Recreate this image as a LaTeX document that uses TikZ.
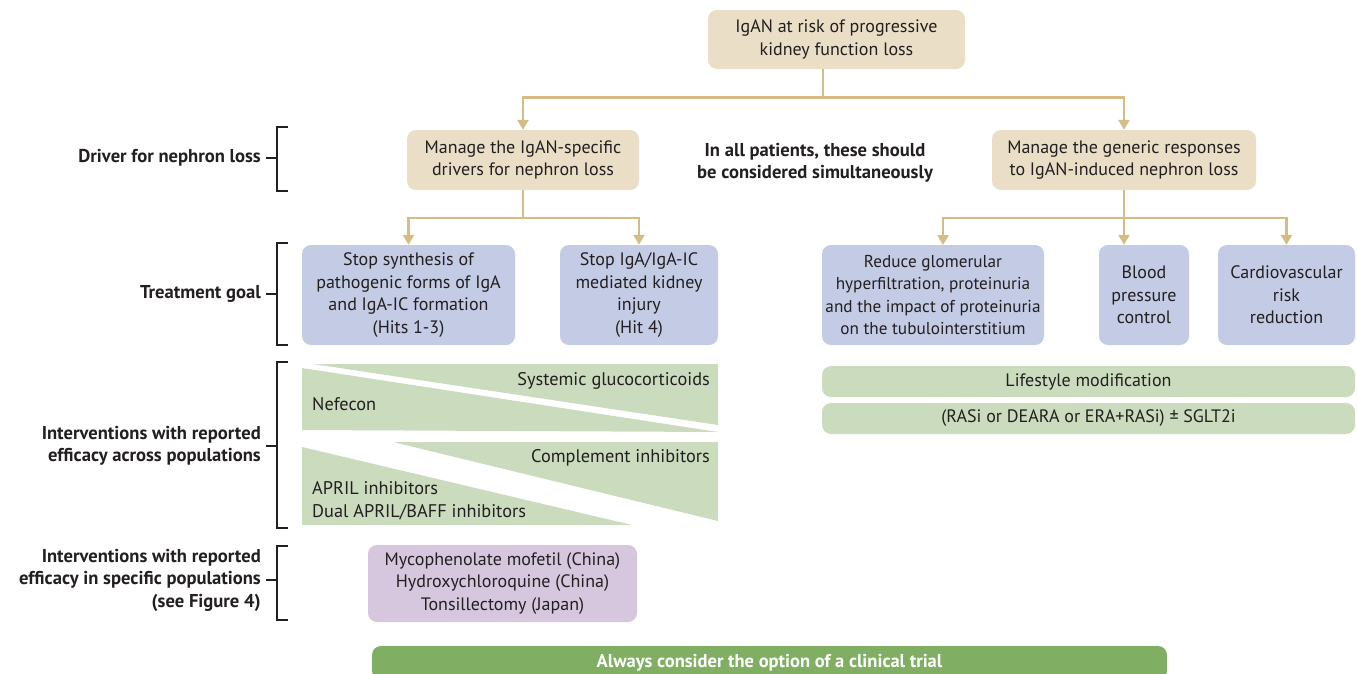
\documentclass[tikz,border=0pt]{standalone}
\usepackage{fontspec}
\setmainfont{PT Sans}
\usetikzlibrary{arrows.meta}
\definecolor{tanfill}{RGB}{234,222,198}
\definecolor{tanline}{RGB}{212,188,132}
\definecolor{bluefill}{RGB}{195,203,229}
\definecolor{greenfill}{RGB}{203,220,190}
\definecolor{purplefill}{RGB}{214,199,223}
\definecolor{trialfill}{RGB}{128,174,99}
\definecolor{txt}{RGB}{35,31,32}
\tikzset{
  box/.style={rounded corners=9pt, inner sep=0pt, align=center, text=txt,
    font=\fontsize{18}{22.5}\selectfont},
  tanbox/.style={box, fill=tanfill},
  bluebox/.style={box, fill=bluefill},
  greenbox/.style={box, fill=greenfill},
  purplebox/.style={box, fill=purplefill},
  conn/.style={draw=tanline, line width=2.6pt},
  arr/.style={-{Triangle[length=10pt,width=11pt]}},
  rowlabel/.style={anchor=east, align=right, text=txt, inner sep=0pt,
    font=\bfseries\fontsize{18.6}{22.5}\selectfont},
  brk/.style={draw=txt, line width=1.1pt},
  tritext/.style={text=txt, inner sep=0pt, font=\fontsize{18.3}{22.5}\selectfont},
}
\begin{document}
\begin{tikzpicture}[x=1pt,y=-1pt]
\useasboundingbox (0,0) rectangle (1357,673);

% top level
\node[tanbox, minimum width=257pt, minimum height=59pt] (top) at (836.5,39.5)
  {IgAN at risk of progressive\\kidney function loss};
\node[tanbox, minimum width=232pt, minimum height=60pt] (drvL) at (523,160)
  {Manage the IgAN-specific\\drivers for nephron loss};
\node[tanbox, minimum width=264pt, minimum height=60pt] (drvR) at (1124,160)
  {Manage the generic responses\\to IgAN-induced nephron loss};
\node[align=center, text=txt, inner sep=0pt, font=\bfseries\fontsize{18.6}{22.5}\selectfont] (mid) at (815,163)
  {In all patients, these should\\be considered simultaneously};

% treatment goals
\node[bluebox, minimum width=213pt, minimum height=100pt] (g1) at (408.5,295)
  {Stop synthesis of\\pathogenic forms of IgA\\and IgA-IC formation\\(Hits 1-3)};
\node[bluebox, minimum width=158pt, minimum height=100pt] (g2) at (639,295)
  {Stop IgA/IgA-IC\\mediated kidney\\injury\\(Hit 4)};
\node[bluebox, minimum width=222pt, minimum height=100pt, font=\fontsize{17.2}{22.5}\selectfont] (g3) at (933,295)
  {Reduce glomerular\\hyperfiltration, proteinuria\\and the impact of proteinuria\\on the tubulointerstitium};
\node[bluebox, minimum width=90pt, minimum height=100pt] (g4) at (1144,295)
  {Blood\\pressure\\control};
\node[bluebox, minimum width=137pt, minimum height=100pt] (g5) at (1286.5,295)
  {Cardiovascular\\risk\\reduction};

% right interventions
\node[greenbox, minimum width=533pt, minimum height=31pt] (life) at (1088.5,381.5)
  {Lifestyle modification};
\node[greenbox, minimum width=533pt, minimum height=31pt] (ras) at (1088.5,418.5)
  {(RASi or DEARA or ERA+RASi) ± SGLT2i};

% specific populations
\node[purplebox, minimum width=269pt, minimum height=77pt] (spec) at (502.5,583.5)
  {Mycophenolate mofetil (China)\\Hydroxychloroquine (China)\\Tonsillectomy (Japan)};

% clinical trial bar
\node[box, fill=trialfill, text=white, minimum width=795pt, minimum height=34pt,
  font=\bfseries\fontsize{18.5}{20}\selectfont] (trial) at (769.5,663)
  {\raisebox{3pt}{Always consider the option of a clinical trial}};

% connectors
\coordinate (j1) at (823,97.5);
\draw[conn] ([xshift=-13.5pt]top.south) -- (j1);
\draw[conn,arr] (j1) -| (drvL.north);
\draw[conn,arr] (j1) -| (drvR.north);
\coordinate (j2) at (523,218);
\draw[conn] (drvL.south) -- (j2);
\draw[conn,arr] (j2) -| (g1.north);
\draw[conn,arr] (j2) -| (g2.north);
\coordinate (j3) at (1124,218);
\coordinate (a3) at (943,245);
\draw[conn] (drvR.south) -- (j3);
\draw[conn,arr] (j3) -| (a3);
\draw[conn,arr] (j3) -- (j3 |- g4.north);
\draw[conn,arr] (j3) -| (g5.north);

% green wedges
\fill[greenfill] (313,364) -- (718,364) -- (718,425) -- cycle;
\fill[greenfill] (302,368) -- (718,432) -- (302,430) -- cycle;
\fill[greenfill] (393,442) -- (718,442) -- (718,521) -- cycle;
\fill[greenfill] (302,447) -- (632,525) -- (302,525) -- cycle;
\node[tritext, anchor=east] (sg) at (710,381) {Systemic glucocorticoids};
\node[tritext, anchor=west] (nef) at (312,404) {Nefecon};
\node[tritext, anchor=east] (ci) at (710,458) {Complement inhibitors};
\node[tritext, anchor=west, align=left] (apr) at (312,501) {APRIL inhibitors\\Dual APRIL/BAFF inhibitors};

% row labels and brackets
\node[rowlabel] (l1) at (261,158) {Driver for nephron loss};
\draw[brk] (288,127) -- (277,127) -- (277,191) -- (288,191);
\draw[brk] (l1.east) ++(5pt,0) -- (277,158);
\node[rowlabel] (l2) at (261,294) {Treatment goal};
\draw[brk] (288,243) -- (277,243) -- (277,345) -- (288,345);
\draw[brk] (l2.east) ++(5pt,0) -- (277,294);
\node[rowlabel] (l3) at (261,446) {Interventions with reported\\efficacy across populations};
\draw[brk] (288,362) -- (277,362) -- (277,528) -- (288,528);
\draw[brk] (l3.east) ++(5pt,0) -- (277,446);
\node[rowlabel] (l4) at (261,580) {Interventions with reported\\efficacy in specific populations\\(see Figure 4)};
\draw[brk] (288,546) -- (277,546) -- (277,620) -- (288,620);
\draw[brk] (l4.east) ++(5pt,0) -- (277,580);
\end{tikzpicture}
\end{document}
